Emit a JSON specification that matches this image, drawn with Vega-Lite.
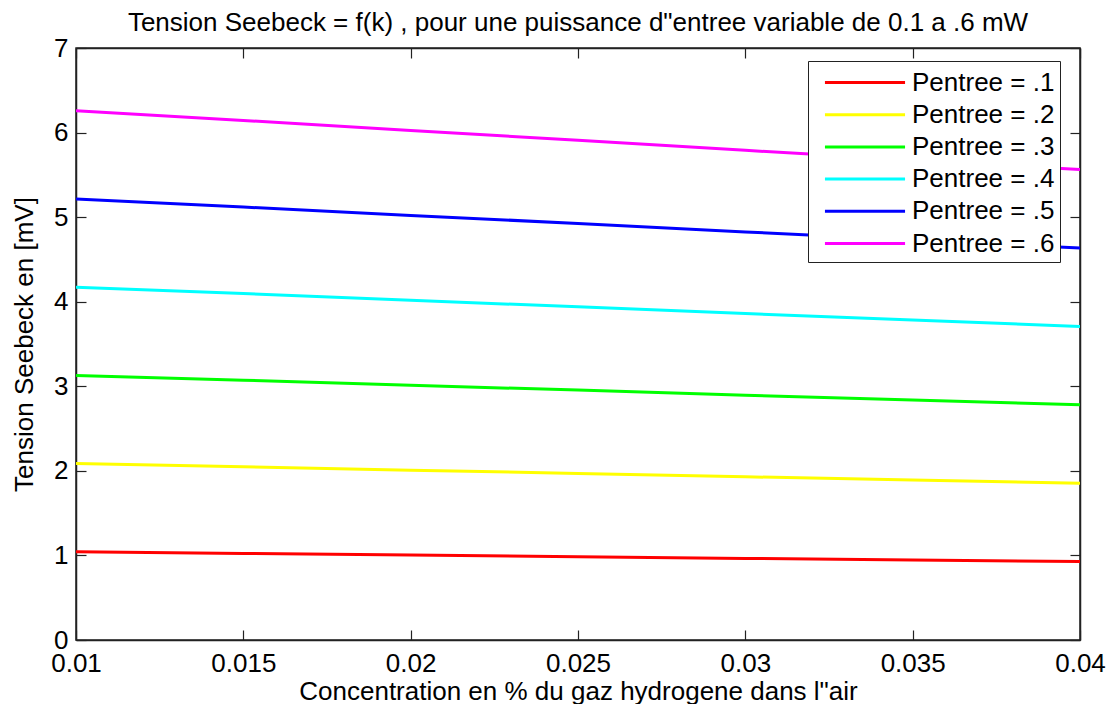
{
  "$schema": "https://vega.github.io/schema/vega-lite/v6.json",
  "width": 1004,
  "height": 592,
  "autosize": "none",
  "padding": {"left": 76, "top": 48, "right": 34, "bottom": 64},
  "title": {"text": "Tension Seebeck = f(k) , pour une puissance d\"entree variable de 0.1 a .6 mW", "fontSize": 26, "fontWeight": "normal", "color": "#000", "offset": -1, "anchor": "middle"},
  "config": {
    "font": "Liberation Sans",
    "view": {"stroke": "#222", "strokeWidth": 1.5},
    "axis": {"grid": false, "domainColor": "#222", "domainWidth": 1.5, "tickColor": "#222", "tickWidth": 1.2, "tickSize": -10, "labelFontSize": 26, "labelColor": "#000", "titleFontSize": 26, "titleFontWeight": "normal", "titleColor": "#000"}
  },
  "data": {"values": [
    {"k": 0.01, "s": "Pentree = .1", "v": 1.043}, {"k": 0.015, "s": "Pentree = .1", "v": 1.024}, {"k": 0.02, "s": "Pentree = .1", "v": 1.004}, {"k": 0.025, "s": "Pentree = .1", "v": 0.985}, {"k": 0.03, "s": "Pentree = .1", "v": 0.965}, {"k": 0.035, "s": "Pentree = .1", "v": 0.946}, {"k": 0.04, "s": "Pentree = .1", "v": 0.927},
    {"k": 0.01, "s": "Pentree = .2", "v": 2.086}, {"k": 0.015, "s": "Pentree = .2", "v": 2.048}, {"k": 0.02, "s": "Pentree = .2", "v": 2.008}, {"k": 0.025, "s": "Pentree = .2", "v": 1.970}, {"k": 0.03, "s": "Pentree = .2", "v": 1.930}, {"k": 0.035, "s": "Pentree = .2", "v": 1.892}, {"k": 0.04, "s": "Pentree = .2", "v": 1.854},
    {"k": 0.01, "s": "Pentree = .3", "v": 3.129}, {"k": 0.015, "s": "Pentree = .3", "v": 3.072}, {"k": 0.02, "s": "Pentree = .3", "v": 3.012}, {"k": 0.025, "s": "Pentree = .3", "v": 2.955}, {"k": 0.03, "s": "Pentree = .3", "v": 2.895}, {"k": 0.035, "s": "Pentree = .3", "v": 2.838}, {"k": 0.04, "s": "Pentree = .3", "v": 2.781},
    {"k": 0.01, "s": "Pentree = .4", "v": 4.172}, {"k": 0.015, "s": "Pentree = .4", "v": 4.096}, {"k": 0.02, "s": "Pentree = .4", "v": 4.016}, {"k": 0.025, "s": "Pentree = .4", "v": 3.940}, {"k": 0.03, "s": "Pentree = .4", "v": 3.860}, {"k": 0.035, "s": "Pentree = .4", "v": 3.784}, {"k": 0.04, "s": "Pentree = .4", "v": 3.708},
    {"k": 0.01, "s": "Pentree = .5", "v": 5.215}, {"k": 0.015, "s": "Pentree = .5", "v": 5.120}, {"k": 0.02, "s": "Pentree = .5", "v": 5.020}, {"k": 0.025, "s": "Pentree = .5", "v": 4.925}, {"k": 0.03, "s": "Pentree = .5", "v": 4.825}, {"k": 0.035, "s": "Pentree = .5", "v": 4.730}, {"k": 0.04, "s": "Pentree = .5", "v": 4.635},
    {"k": 0.01, "s": "Pentree = .6", "v": 6.258}, {"k": 0.015, "s": "Pentree = .6", "v": 6.144}, {"k": 0.02, "s": "Pentree = .6", "v": 6.024}, {"k": 0.025, "s": "Pentree = .6", "v": 5.910}, {"k": 0.03, "s": "Pentree = .6", "v": 5.790}, {"k": 0.035, "s": "Pentree = .6", "v": 5.676}, {"k": 0.04, "s": "Pentree = .6", "v": 5.562}
  ]},
  "layer": [
    {
      "mark": {"type": "line", "strokeWidth": 3, "clip": true},
      "encoding": {
        "x": {"field": "k", "type": "quantitative", "scale": {"domain": [0.01, 0.04], "nice": false, "zero": false},
              "axis": {"orient": "bottom", "values": [0.01, 0.015, 0.02, 0.025, 0.03, 0.035, 0.04], "format": "~g", "labelPadding": 20, "labelFlush": false, "title": "Concentration en % du gaz hydrogene dans l\"air", "titlePadding": 2}},
        "y": {"field": "v", "type": "quantitative", "scale": {"domain": [0, 7], "nice": false, "zero": false},
              "axis": {"orient": "left", "values": [0, 1, 2, 3, 4, 5, 6, 7], "labelPadding": 18, "title": "Tension Seebeck en [mV]", "titlePadding": 16}},
        "color": {"field": "s", "type": "nominal",
                  "scale": {"domain": ["Pentree = .1", "Pentree = .2", "Pentree = .3", "Pentree = .4", "Pentree = .5", "Pentree = .6"], "range": ["#ff0000", "#ffff00", "#00ff00", "#00ffff", "#0000ff", "#ff00ff"]},
                  "legend": {"title": null, "orient": "none", "legendX": 732, "legendY": 13, "strokeColor": "#222", "fillColor": "#fff", "padding": 5, "symbolType": "M-2.67,0H2.67", "symbolSize": 900, "symbolStrokeWidth": 3, "symbolOffset": 35.5, "labelOffset": 30.5, "labelFontSize": 26, "labelColor": "#000", "rowPadding": 2.2, "labelLimit": 300}}
      }
    },
    {
      "mark": {"type": "point", "opacity": 0},
      "encoding": {
        "x": {"field": "k", "type": "quantitative", "scale": {"domain": [0.01, 0.04], "nice": false, "zero": false},
              "axis": {"orient": "top", "values": [0.01, 0.015, 0.02, 0.025, 0.03, 0.035, 0.04], "labels": false, "title": null}},
        "y": {"field": "v", "type": "quantitative", "scale": {"domain": [0, 7], "nice": false, "zero": false},
              "axis": {"orient": "right", "values": [0, 1, 2, 3, 4, 5, 6, 7], "labels": false, "title": null}}
      }
    }
  ],
  "resolve": {"axis": {"x": "independent", "y": "independent"}}
}
